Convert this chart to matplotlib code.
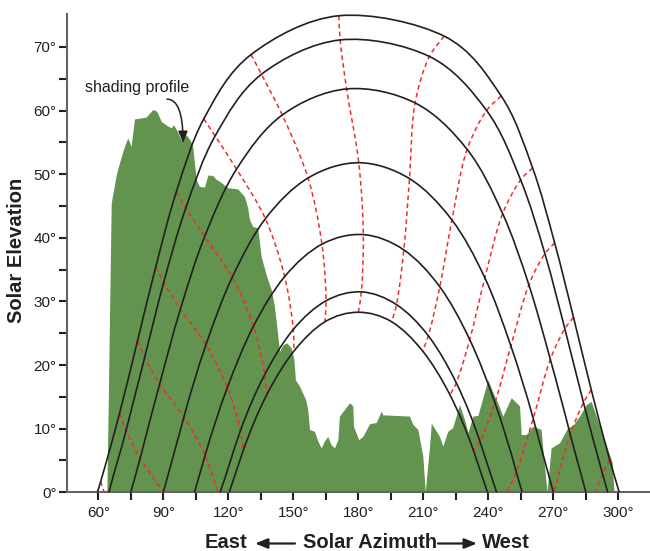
import numpy as np
import matplotlib
matplotlib.use('Agg')
import matplotlib.pyplot as plt
from matplotlib.path import Path
from matplotlib.patches import PathPatch

plt.rcParams['font.family'] = ['Liberation Sans', 'DejaVu Sans']

# ---------------- data ----------------
HOURS = list(range(5, 20))          # clock hours of the dashed hour lines

# hourly sun positions per date curve (azimuth, elevation); None = sun below horizon
JUN_AZ = [61.1, 69.8, 78.1, 86.5, 96.0, 108.7, 130.5, 171.0, 219.6, 245.9, 260.4, 270.6, 279.3, 287.5, 296.0]
JUN_EL = [1.7, 12.4, 23.8, 35.4, 47.2, 58.7, 68.8, 74.9, 71.7, 62.3, 51.0, 39.2, 27.5, 16.1, 5.1]
MAY_AZ = [None, 72.8, 81.4, 90.2, 100.4, 113.9, 135.3, 171.6, 212.8, 239.2, 254.9, 266.1, 275.3, 283.9, 292.7]
MAY_EL = [None, 9.7, 21.2, 33.0, 44.7, 56.0, 65.7, 71.1, 68.5, 60.0, 49.1, 37.5, 25.7, 14.1, 2.9]
APR_AZ = [None, 79.3, 88.3, 97.9, 109.1, 123.8, 144.9, 174.6, 206.2, 230.2, 246.6, 258.7, 268.6, 277.8, None]
APR_EL = [None, 5.3, 17.0, 28.8, 40.2, 50.8, 59.3, 63.4, 61.2, 53.9, 43.8, 32.6, 20.9, 9.1, None]
MAR_AZ = [None, None, 99.5, 109.7, 121.8, 137.1, 156.8, 180.2, 203.6, 223.2, 238.4, 250.4, 260.7, None, None]
MAR_EL = [None, None, 11.8, 23.2, 33.8, 43.0, 49.4, 51.8, 49.3, 42.8, 33.7, 23.0, 11.6, None, None]
FEB_AZ = [None, None, 109.3, 119.6, 131.6, 146.0, 163.2, 182.3, 201.0, 217.6, 231.4, 243.0, 252.9, None, None]
FEB_EL = [None, None, 5.8, 16.5, 26.1, 33.9, 39.0, 40.5, 38.1, 32.3, 24.0, 14.1, 3.2, None, None]
JAN_AZ = [None, None, None, 125.6, 136.8, 150.0, 165.1, 181.4, 197.6, 212.3, 225.2, 236.1, None, None, None]
JAN_EL = [None, None, None, 9.7, 18.5, 25.6, 30.1, 31.5, 29.5, 24.6, 17.2, 8.0, None, None, None]
DEC_AZ = [None, None, None, 126.9, 137.7, 150.3, 164.6, 180.0, 195.4, 209.7, 222.3, 233.1, None, None, None]
DEC_EL = [None, None, None, 6.6, 15.3, 22.2, 26.8, 28.3, 26.8, 22.2, 15.3, 6.6, None, None, None]

# sunrise / sunset azimuths of each date curve (elevation 0)
SUNRISE_AZ = [59.6, 64.9, 75.0, 90.0, 104.4, 116.2, 120.4]
SUNSET_AZ = [300.4, 295.1, 285.0, 270.0, 255.6, 243.8, 239.6]

# azimuth where an hour line reaches the horizon
HOUR_END_HOURS = [5, 6, 7, 17, 18, 19]
HOUR_END_AZ = [62.7, 90.2, 115.3, 248.7, 270.2, 289.5]

# shading (horizon) profile
PROFILE_AZ = [64.2, 66.2, 68.5, 70.0, 72.3, 73.8, 75.4, 76.9, 82.3, 85.4, 87.2, 89.3, 92.3, 93.9,
              94.9, 96.5, 98.5, 100.8, 102.6, 103.8, 105.4, 106.9, 109.2, 110.8, 113.1, 114.6,
              116.2, 120.0, 124.6, 127.7, 129.2, 130.0, 131.5, 133.8, 135.4, 137.7, 140.0, 141.5,
              142.6, 143.9, 145.4, 147.2, 149.3, 150.5, 151.2, 153.1, 155.9, 156.9, 157.7, 160.0,
              161.5, 163.1, 164.6, 166.1, 167.7, 169.2, 170.8, 171.5, 176.2, 177.7, 178.0, 180.4,
              182.3, 185.4, 188.5, 190.8, 191.5, 203.8, 205.4, 207.7, 210.0, 211.1, 213.1, 213.9,
              217.7, 219.2, 221.5, 223.8, 226.9, 229.2, 230.8, 233.1, 235.4, 240.0, 243.1, 244.6,
              246.9, 250.8, 254.6, 255.4, 257.7, 260.7, 264.6, 265.4, 267.3, 269.2, 273.1, 276.9,
              279.2, 282.3, 285.4, 287.7, 290.0, 293.8, 297.4, 298.2]
PROFILE_EL = [0.0, 45.4, 49.8, 51.7, 54.3, 55.6, 54.3, 58.6, 58.9, 60.1, 59.8, 58.2, 57.5, 57.2,
              57.7, 56.8, 55.3, 56.1, 55.3, 54.3, 49.1, 48.0, 47.9, 49.8, 49.7, 49.1,
              48.8, 47.8, 47.6, 46.4, 44.6, 42.8, 41.7, 41.5, 37.0, 34.1, 31.8, 29.2,
              26.0, 22.1, 23.1, 23.4, 22.6, 20.8, 17.6, 16.6, 14.5, 12.9, 9.8, 9.5,
              8.0, 6.9, 8.0, 8.7, 7.4, 6.9, 8.2, 11.9, 14.0, 13.5, 10.3, 8.2,
              8.7, 10.7, 10.9, 12.7, 12.1, 11.9, 10.6, 9.8, 5.6, 0.0, 7.2, 10.8,
              8.7, 7.2, 9.5, 10.1, 13.7, 11.4, 9.3, 11.9, 12.0, 17.6, 15.0, 14.0,
              11.9, 14.8, 13.5, 9.0, 9.0, 10.3, 9.8, 6.6, 0.0, 6.9, 7.7, 10.1,
              10.4, 11.9, 13.7, 14.2, 11.9, 8.2, 4.6, 0.0]

X_TICKS = list(range(60, 301, 15))
Y_TICKS = list(range(0, 71, 5))

# ---------------- styling ----------------
INK = '#231f20'
GREEN = '#62944f'
RED = '#f22b2b'

fig = plt.figure(figsize=(6.5, 5.51), dpi=100)
ax = fig.add_axes([67 / 650, 58.7 / 551, 583 / 650, 478 / 551])
ax.set_xlim(45.56, 314.6)
ax.set_ylim(0, 75.13)
for s in ('top', 'right'):
    ax.spines[s].set_visible(False)
for s in ('left', 'bottom'):
    ax.spines[s].set_color('#646464')
    ax.spines[s].set_linewidth(1.5)

ax.set_xticks(X_TICKS)
ax.set_xticklabels([f'{v}°' if v % 30 == 0 else '' for v in X_TICKS])
ax.set_yticks(Y_TICKS)
ax.set_yticklabels([f'{v}°' if v % 10 == 0 else '' for v in Y_TICKS])
ax.tick_params(axis='both', direction='out', length=6, width=1.5, color=INK,
               labelsize=11, labelcolor=INK)
ax.tick_params(axis='x', pad=4)
ax.tick_params(axis='y', pad=1.5)


def to_path(verts_disp, codes):
    return Path(ax.transData.inverted().transform(np.array(verts_disp)), codes)


def smooth_path(xs, ys, alpha=0.5):
    """Centripetal Catmull-Rom through the given points (drawn as Bezier path)."""
    P = ax.transData.transform(np.column_stack([xs, ys]))
    n = len(P)
    ext = np.vstack([2 * P[0] - P[1], P, 2 * P[-1] - P[-2]])
    verts = [P[0]]
    codes = [Path.MOVETO]
    for i in range(n - 1):
        p0, p1, p2, p3 = ext[i], ext[i + 1], ext[i + 2], ext[i + 3]
        d1 = max(np.linalg.norm(p1 - p0), 1e-6) ** alpha
        d2 = max(np.linalg.norm(p2 - p1), 1e-6) ** alpha
        d3 = max(np.linalg.norm(p3 - p2), 1e-6) ** alpha
        b1 = (d1 ** 2 * p2 - d2 ** 2 * p0 + (2 * d1 ** 2 + 3 * d1 * d2 + d2 ** 2) * p1) / (3 * d1 * (d1 + d2))
        b2 = (d3 ** 2 * p1 - d2 ** 2 * p3 + (2 * d3 ** 2 + 3 * d3 * d2 + d2 ** 2) * p2) / (3 * d3 * (d3 + d2))
        verts += [b1, b2, p2]
        codes += [Path.CURVE4] * 3
    return to_path(verts, codes)


def sun_path(sr_az, hx, hy, ss_az):
    """Smooth curve through hourly points (uniform in time), closed to the horizon
    at the sunrise and sunset azimuths."""
    H = ax.transData.transform(np.column_stack([hx, hy]))
    SR = ax.transData.transform([(sr_az, 0.0)])[0]
    SS = ax.transData.transform([(ss_az, 0.0)])[0]
    m = len(H)
    T = np.zeros_like(H)
    T[1:-1] = (H[2:] - H[:-2]) / 2
    T[0] = (-3 * H[0] + 4 * H[1] - H[2]) / 2
    T[-1] = (3 * H[-1] - 4 * H[-2] + H[-3]) / 2
    verts = [SR]
    codes = [Path.MOVETO]
    dt = np.linalg.norm(H[0] - SR) / np.linalg.norm(T[0])
    verts += [SR + T[0] * dt / 3, H[0] - T[0] * dt / 3, H[0]]
    codes += [Path.CURVE4] * 3
    for k in range(m - 1):
        verts += [H[k] + T[k] / 3, H[k + 1] - T[k + 1] / 3, H[k + 1]]
        codes += [Path.CURVE4] * 3
    dt = np.linalg.norm(SS - H[-1]) / np.linalg.norm(T[-1])
    verts += [H[-1] + T[-1] * dt / 3, SS - T[-1] * dt / 3, SS]
    codes += [Path.CURVE4] * 3
    return to_path(verts, codes)


# shading profile
ax.fill(PROFILE_AZ, PROFILE_EL, color=GREEN, lw=0, zorder=1)

DATE_AZ = [JUN_AZ, MAY_AZ, APR_AZ, MAR_AZ, FEB_AZ, JAN_AZ, DEC_AZ]
DATE_EL = [JUN_EL, MAY_EL, APR_EL, MAR_EL, FEB_EL, JAN_EL, DEC_EL]

# hour lines (red dashed)
for j, h in enumerate(HOURS):
    xs = [a[j] for a in DATE_AZ if a[j] is not None]
    ys = [e[j] for e in DATE_EL if e[j] is not None]
    if h in HOUR_END_HOURS:
        xs.append(HOUR_END_AZ[HOUR_END_HOURS.index(h)])
        ys.append(0.0)
    ax.add_patch(PathPatch(smooth_path(xs, ys), fill=False, ec=RED, lw=1.1,
                           ls=(0, (3.0, 2.2)), zorder=2, clip_on=False, capstyle='butt'))

# sun paths (black)
for az, el, sr, ss in zip(DATE_AZ, DATE_EL, SUNRISE_AZ, SUNSET_AZ):
    hx = [a for a in az if a is not None]
    hy = [e for e in el if e is not None]
    ax.add_patch(PathPatch(sun_path(sr, hx, hy, ss), fill=False, ec=INK, lw=1.2,
                           zorder=3, clip_on=False))

# annotation
ax.text(78.1, 63.6, 'shading profile', fontsize=11.5, color=INK, ha='center', va='center', zorder=5)
ax.annotate('', xy=(99.1, 54.9), xytext=(91.7, 61.8),
            arrowprops=dict(arrowstyle='-|>,head_length=0.7,head_width=0.28', lw=1.1, color=INK,
                            shrinkA=0, shrinkB=0, connectionstyle='angle3,angleA=0,angleB=90'),
            zorder=5)

# axis titles
fig.text(16.7 / 650, 1 - 250.5 / 551, 'Solar Elevation', rotation=90, ha='center', va='center',
         fontsize=14.5, fontweight='bold', color=INK)
base_y = (551 - 548.3) / 551
fig.text(226 / 650, base_y, 'East', ha='center', va='baseline', fontsize=14.5, fontweight='bold', color=INK)
fig.text(370.5 / 650, base_y, 'Solar Azimuth', ha='center', va='baseline', fontsize=14.5,
         fontweight='bold', color=INK)
fig.text(506 / 650, base_y, 'West', ha='center', va='baseline', fontsize=14.5, fontweight='bold', color=INK)
arr_y = 551 - 543.5
for x0, x1 in ((295, 255), (438, 477)):
    ax.annotate('', xy=(x1, arr_y), xytext=(x0, arr_y), xycoords='figure pixels',
                textcoords='figure pixels',
                arrowprops=dict(arrowstyle='-|>,head_length=0.75,head_width=0.3', lw=1.6, color=INK,
                                shrinkA=0, shrinkB=0))

fig.savefig('out.png', dpi=100)
